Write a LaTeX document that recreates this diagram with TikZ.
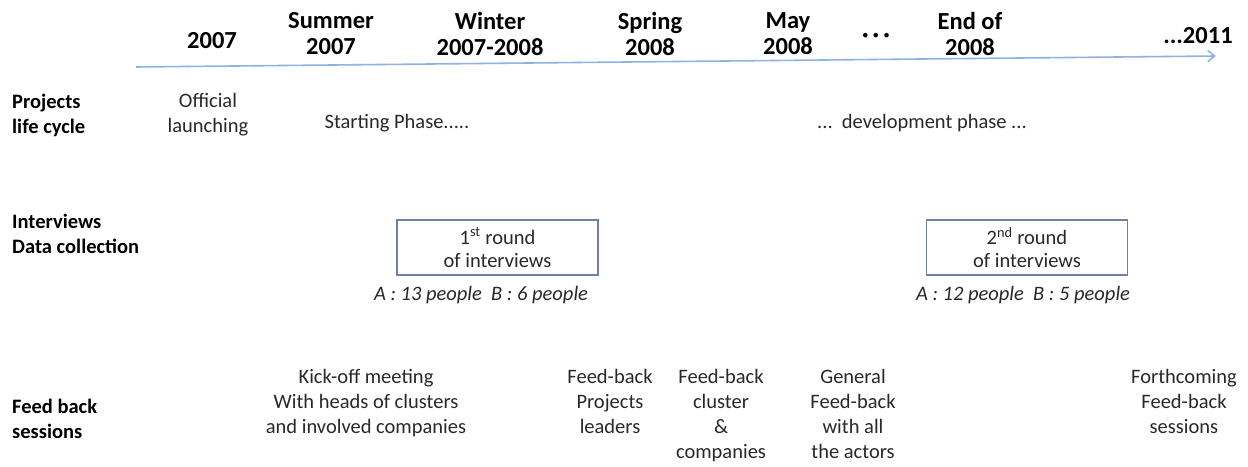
\documentclass[tikz,border=0pt]{standalone}
\usepackage{fontspec}
\setmainfont{Carlito}
\usetikzlibrary{arrows.meta}
\definecolor{tl}{RGB}{141,179,226}
\definecolor{boxc}{RGB}{110,130,165}
\definecolor{txt}{RGB}{40,40,40}
\begin{document}
\begin{tikzpicture}[x=1pt,y=-1pt,
  hdr/.style={font=\fontsize{24.5}{26}\selectfont\bfseries, align=center, inner sep=0pt, text=black},
  rowlab/.style={font=\fontsize{20.5}{25}\selectfont\bfseries, align=left, anchor=west, inner sep=0pt, text=black},
  body/.style={font=\fontsize{20.5}{25}\selectfont, align=center, inner sep=0pt, text=txt},
  people/.style={font=\fontsize{20.5}{22}\selectfont\itshape, inner sep=0pt, text=txt},
  roundbox/.style={draw=boxc, line width=1.5pt, minimum width=201pt, minimum height=55pt, align=center, font=\fontsize{20.5}{23}\selectfont, text=txt}]
\useasboundingbox (0,0) rectangle (1248,466);
% timeline
\coordinate (tlstart) at (136,67);
\coordinate (tlend) at (1216,56);
\draw[tl, line width=1.6pt, -{Straight Barb[length=7pt,width=11pt]}] (tlstart) -- (tlend);
% headers
\node[hdr] (h1) at (212,41) {2007};
\node[hdr] (h2) at (331,34) {Summer\\2007};
\node[hdr] (h3) at (490,34) {Winter\\2007-2008};
\node[hdr] (h4) at (650,34) {Spring\\2008};
\node[hdr] (h5) at (788,34) {May\\2008};
\node[hdr] (h6) at (876,38) {\textperiodcentered\,\textperiodcentered\,\textperiodcentered};
\node[hdr] (h7) at (970,34) {End of\\2008};
\node[hdr] (h8) at (1198,36) {...2011};
% row labels
\node[rowlab] (r1) at (12,115) {Projects\\life cycle};
\node[rowlab] (r2) at (12,234) {Interviews\\Data collection};
\node[rowlab] (r3) at (12,419) {Feed back\\sessions};
% life cycle
\node[body] (l1) at (208,115) {Official\\launching};
\node[body] (l2) at (397,123) {Starting Phase.....};
\node[body] (l3) at (922,123) {...\ \ development phase ...};
% interviews
\node[roundbox] (b1) at (497.5,247.5) {1\textsuperscript{st} round\\of interviews};
\node[people] (p1) at (481,295) {A : 13 people\ \ B : 6 people};
\node[roundbox] (b2) at (1027,247.5) {2\textsuperscript{nd} round\\of interviews};
\node[people] (p2) at (1023,295) {A : 12 people\ \ B : 5 people};
% feed back
\node[body, anchor=north] (f1) at (366,369) {Kick-off meeting\\With heads of clusters\\and involved companies};
\node[body, anchor=north] (f2) at (610,369) {Feed-back\\Projects\\leaders};
\node[body, anchor=north] (f3) at (721,369) {Feed-back\\cluster\\\&\\companies};
\node[body, anchor=north] (f4) at (853,369) {General\\Feed-back\\with all\\the actors};
\node[body, anchor=north] (f5) at (1184,369) {Forthcoming\\Feed-back\\sessions};
\end{tikzpicture}
\end{document}
